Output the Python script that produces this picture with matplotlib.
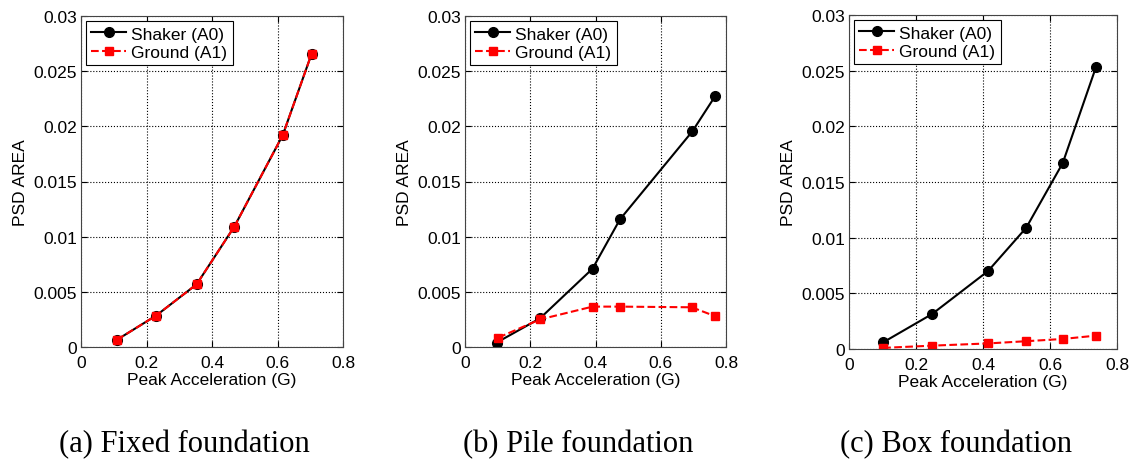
import matplotlib.pyplot as plt

plt.rcParams["font.family"] = ["Liberation Sans", "DejaVu Sans"]

# (a) Fixed foundation
fixed_x = [0.11, 0.229, 0.353, 0.468, 0.616, 0.704]
fixed_shaker = [0.00066, 0.00284, 0.00568, 0.0109, 0.0192, 0.02656]
fixed_ground = [0.00066, 0.00284, 0.00568, 0.0109, 0.0192, 0.02656]

# (b) Pile foundation
pile_x_shaker = [0.097, 0.23, 0.391, 0.475, 0.697, 0.767]
pile_shaker = [0.0004, 0.0026, 0.0071, 0.01157, 0.01955, 0.02275]
pile_x_ground = [0.102, 0.23, 0.391, 0.475, 0.695, 0.766]
pile_ground = [0.00085, 0.0025, 0.00366, 0.00366, 0.0036, 0.0028]

# (c) Box foundation
box_x = [0.102, 0.248, 0.415, 0.529, 0.638, 0.737]
box_shaker = [0.0006, 0.00314, 0.0070, 0.01089, 0.0167, 0.0253]
box_ground = [0.0001, 0.0003, 0.0005, 0.0007, 0.0009, 0.0012]

captions = ["(a) Fixed foundation", "(b) Pile foundation", "(c) Box foundation"]
caption_x = [184, 578, 956]

panels = [
    (fixed_x, fixed_shaker, fixed_x, fixed_ground),
    (pile_x_shaker, pile_shaker, pile_x_ground, pile_ground),
    (box_x, box_shaker, box_x, box_ground),
]
rects = [
    [81 / 1137, 112 / 460, 262 / 1137, 331 / 460],
    [465 / 1137, 112 / 460, 261 / 1137, 331 / 460],
    [849 / 1137, 110 / 460, 268 / 1137, 334 / 460],
]

fig = plt.figure(figsize=(11.37, 4.6), dpi=100)

for (xs, ys, xg, yg), rect, cap, cx in zip(panels, rects, captions, caption_x):
    ax = fig.add_axes(rect)
    ax.plot(xs, ys, "-o", color="black", lw=1.5, ms=7, label="Shaker (A0)")
    ax.plot(xg, yg, "--s", color="red", lw=1.5, ms=6, label="Ground (A1)")
    ax.set_xlim(0, 0.8)
    ax.set_ylim(0, 0.03)
    ax.set_xticks([0, 0.2, 0.4, 0.6, 0.8])
    ax.set_xticklabels(["0", "0.2", "0.4", "0.6", "0.8"])
    ax.set_yticks([0, 0.005, 0.01, 0.015, 0.02, 0.025, 0.03])
    ax.set_yticklabels(["0", "0.005", "0.01", "0.015", "0.02", "0.025", "0.03"])
    ax.tick_params(direction="in", top=True, right=True, labelsize=12.5, length=4)
    ax.tick_params(axis="x", pad=6)
    ax.tick_params(axis="y", pad=3)
    ax.grid(True, linestyle=":", color="black", lw=0.8)
    for s in ax.spines.values():
        s.set_color("#444444")
    ax.set_xlabel("Peak Acceleration (G)", fontsize=12.5, labelpad=1)
    ax.set_ylabel("PSD AREA", fontsize=12.5, labelpad=4)
    leg = ax.legend(loc="upper left", fontsize=12.5, fancybox=False, framealpha=1,
                    edgecolor="black", handlelength=2.0, borderpad=0.3,
                    labelspacing=0.2, handletextpad=0.3, borderaxespad=0.3)
    leg.get_frame().set_linewidth(0.8)
    fig.text(cx / 1137, 0.033, cap, ha="center", va="center",
             fontsize=22, family="Liberation Serif")

fig.savefig("out.png", dpi=100)
